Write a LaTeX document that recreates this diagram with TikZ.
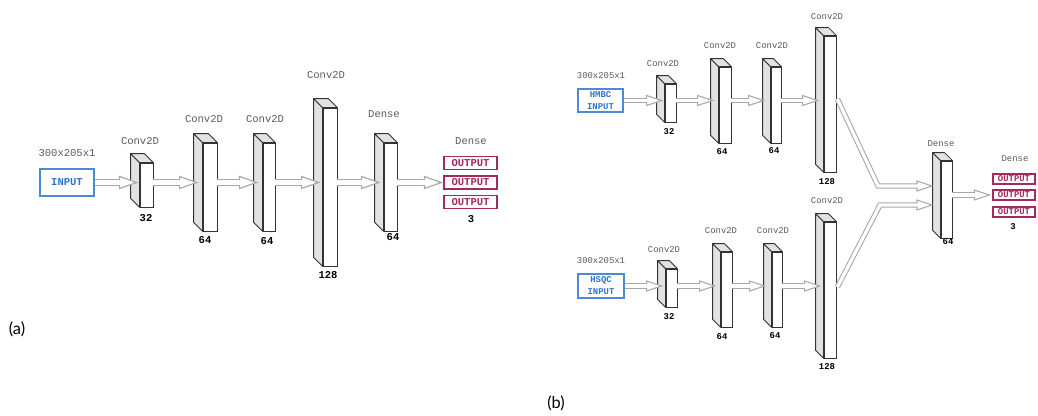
\documentclass[tikz,border=0pt]{standalone}
\usepackage{fontspec}
\setmainfont{Liberation Mono}
\newfontfamily\capfont{Lato}
\usetikzlibrary{calc}
\definecolor{labelgray}{HTML}{5A5A5A}
\definecolor{flowgray}{HTML}{A8A8A8}
\definecolor{sidegray}{HTML}{E2E2E2}
\definecolor{inblue}{HTML}{2E74CC}
\definecolor{outred}{HTML}{A3295F}
\newcommand{\sizea}{\fontsize{9}{10}\selectfont}
\newcommand{\sizeb}{\fontsize{7.6}{9}\selectfont}
\newcommand{\headlen}{17}
\newcommand{\headwid}{6}
\newcommand{\netlayer}[6]{%
  \node[layerface, minimum width=#4*0.3mm, minimum height=#5*0.3mm] (#1) at (#2,#3) {};
  \filldraw[layerside] (#1.north west) -- ++(-#6,-#6) -- ([shift={(-#6,-#6)}]#1.south west) -- (#1.south west) -- cycle;
  \filldraw[layerside] (#1.north west) -- ++(-#6,-#6) -- ([shift={(-#6,-#6)}]#1.north east) -- (#1.north east) -- cycle;
}
\newcommand{\flowarrow}[3][]{%
  \draw[flowline] #2 #1 -- ($(#3)+(-\headlen,0)$);
  \draw[flowhead] ($(#3)+(-\headlen,-\headwid)$) -- (#3) -- ($(#3)+(-\headlen,\headwid)$) -- cycle;
  \draw[flowgap] #2 #1 -- ($(#3)+(-\headlen+1.4,0)$);
}
\tikzset{
  layerface/.style={draw=black!80, line width=0.7pt, fill=white, inner sep=0},
  layerside/.style={draw=black!80, line width=0.7pt, fill=sidegray, line join=round},
  lbl/.style={text=labelgray, inner sep=0},
  num/.style={inner sep=0, execute at begin node=\bfseries},
  inbox/.style={draw=inblue!85, line width=1.2pt, text=inblue, inner sep=0, align=center, execute at begin node=\bfseries},
  outbox/.style={draw=outred, line width=1pt, text=outred, inner sep=0, execute at begin node=\bfseries},
  flowline/.style={draw=flowgray, line width=5.6pt, line join=miter},
  flowgap/.style={draw=white, line width=3.6pt, line join=miter},
  flowhead/.style={draw=flowgray, line width=1pt, fill=white, line join=miter},
  caption/.style={font=\capfont\fontsize{14}{16}\selectfont, inner sep=0}
}
\begin{document}
\begin{tikzpicture}[x=0.03cm, y=-0.03cm]
\useasboundingbox (0,0) rectangle (1038,415);

\begin{scope}[font=\sizea]
\node[inbox, minimum width=54*0.3mm, minimum height=27*0.3mm] (in) at (67,182.5) {INPUT};
\node[lbl] (inl) at (67,153) {300x205x1};
\netlayer{c1}{146.5}{185}{13}{44}{9}
\netlayer{c2}{210}{187}{14}{88}{9}
\netlayer{c3}{269}{187}{12}{88}{9}
\netlayer{c4}{330}{187}{14}{158}{9}
\netlayer{dn}{390.5}{187}{13}{88}{9}
\node[outbox, minimum width=53*0.3mm, minimum height=13*0.3mm] (o1) at (470.5,163) {OUTPUT};
\node[outbox, minimum width=53*0.3mm, minimum height=13*0.3mm] (o2) at (470.5,182.5) {OUTPUT};
\node[outbox, minimum width=53*0.3mm, minimum height=13*0.3mm] (o3) at (470.5,202) {OUTPUT};
\node[lbl] (c1l) at (140,141) {Conv2D};
\node[lbl] (c2l) at (204,119) {Conv2D};
\node[lbl] (c3l) at (265,119) {Conv2D};
\node[lbl] (c4l) at (326,75) {Conv2D};
\node[lbl] (dnl) at (384,114) {Dense};
\node[lbl] (ol) at (471,141) {Dense};
\node[num] (c1n) at (146,218) {32};
\node[num] (c2n) at (205,240) {64};
\node[num] (c3n) at (267,241) {64};
\node[num] (c4n) at (328,275) {128};
\node[num] (dnn) at (393,237) {64};
\node[num] (on) at (471,219) {3};
\coordinate (t1) at ($(c1.west |- in.east)+(-3,0)$);
\coordinate (t2) at ($(c2.west |- in.east)+(-6,0)$);
\coordinate (t3) at ($(c3.west |- in.east)+(-6,0)$);
\coordinate (t4) at ($(c4.west |- in.east)+(-4,0)$);
\coordinate (t5) at ($(dn.west |- in.east)+(-5,0)$);
\coordinate (t6) at ($(o2.west)+(-2,0)$);
\flowarrow{(in.east)}{t1}
\flowarrow{(c1.east |- in.east)}{t2}
\flowarrow{(c2.east |- in.east)}{t3}
\flowarrow{(c3.east |- in.east)}{t4}
\flowarrow{(c4.east |- in.east)}{t5}
\flowarrow{(dn.east |- in.east)}{t6}
\end{scope}

\renewcommand{\headlen}{15}
\renewcommand{\headwid}{5}
\begin{scope}[font=\sizeb, flowline/.style={draw=flowgray, line width=4.6pt, line join=miter},
  flowgap/.style={draw=white, line width=2.8pt, line join=miter},
  flowhead/.style={draw=flowgray, line width=0.9pt, fill=white, line join=miter}]
\node[inbox, minimum width=45*0.3mm, minimum height=23*0.3mm] (hb) at (600.5,100.5) {HMBC\\[1.2pt]INPUT};
\node[lbl] (hbl) at (601,76) {300x205x1};
\netlayer{u1}{670.5}{103}{11}{38}{8}
\netlayer{u2}{725}{105}{12}{76}{8}
\netlayer{u3}{776}{105}{10}{76}{8}
\netlayer{u4}{830}{104}{12}{136}{8}
\node[lbl] (u1l) at (663,64) {Conv2D};
\node[lbl] (u2l) at (720,46) {Conv2D};
\node[lbl] (u3l) at (772,46) {Conv2D};
\node[lbl] (u4l) at (827,17) {Conv2D};
\node[num] (u1n) at (669,132) {32};
\node[num] (u2n) at (722,152) {64};
\node[num] (u3n) at (774,151) {64};
\node[num] (u4n) at (827,182) {128};

\node[inbox, minimum width=46*0.3mm, minimum height=24*0.3mm] (hs) at (601,286) {HSQC\\[1.2pt]INPUT};
\node[lbl] (hsl) at (601,261) {300x205x1};
\netlayer{l1}{671.5}{288}{11}{38}{8}
\netlayer{l2}{726.5}{289.5}{11}{75}{8}
\netlayer{l3}{777}{289.5}{10}{75}{8}
\netlayer{l4}{830}{290}{12}{136}{8}
\node[lbl] (l1l) at (664,250) {Conv2D};
\node[lbl] (l2l) at (721,231) {Conv2D};
\node[lbl] (l3l) at (773,231) {Conv2D};
\node[lbl] (l4l) at (827,201) {Conv2D};
\node[num] (l1n) at (669,317) {32};
\node[num] (l2n) at (722,337) {64};
\node[num] (l3n) at (775,336) {64};
\node[num] (l4n) at (827,367) {128};

\netlayer{bd}{946.5}{199.5}{11}{77}{8}
\node[lbl] (bdl) at (941,144) {Dense};
\node[num] (bdn) at (948,242) {64};
\node[outbox, minimum width=42*0.3mm, minimum height=10*0.3mm] (q1) at (1014,179) {OUTPUT};
\node[outbox, minimum width=42*0.3mm, minimum height=10*0.3mm] (q2) at (1014,195) {OUTPUT};
\node[outbox, minimum width=42*0.3mm, minimum height=10*0.3mm] (q3) at (1014,212) {OUTPUT};
\node[lbl] (ql) at (1015,159) {Dense};
\node[num] (qn) at (1013,227) {3};

\coordinate (s1) at ($(u1.west |- hb.east)+(-3,0)$);
\coordinate (s2) at ($(u2.west |- hb.east)+(-6,0)$);
\coordinate (s3) at ($(u3.west |- hb.east)+(-7,0)$);
\coordinate (s4) at ($(u4.west |- hb.east)+(-6,0)$);
\coordinate (r1) at ($(l1.west |- hs.east)+(-4,0)$);
\coordinate (r2) at ($(l2.west |- hs.east)+(-6,0)$);
\coordinate (r3) at ($(l3.west |- hs.east)+(-7,0)$);
\coordinate (r4) at ($(l4.west |- hs.east)+(-4,0)$);
\coordinate (m1) at (932,186);
\coordinate (m2) at (932,205);
\coordinate (m3) at ($(q2.west)+(-3,0)$);
\flowarrow{(hb.east)}{s1}
\flowarrow{(u1.east |- hb.east)}{s2}
\flowarrow{(u2.east |- hb.east)}{s3}
\flowarrow{(u3.east |- hb.east)}{s4}
\flowarrow{(hs.east)}{r1}
\flowarrow{(l1.east |- hs.east)}{r2}
\flowarrow{(l2.east |- hs.east)}{r3}
\flowarrow{(l3.east |- hs.east)}{r4}
\flowarrow[-- (878,186)]{($(u4.east)+(1,-5)$)}{m1}
\flowarrow[-- (880,205)]{($(l4.east)+(1,-3)$)}{m2}
\flowarrow{(bd.east |- q2.west)}{m3}
\end{scope}

\node[caption] (capa) at (17,329) {(a)};
\node[caption] (capb) at (556,403) {(b)};
\end{tikzpicture}
\end{document}
